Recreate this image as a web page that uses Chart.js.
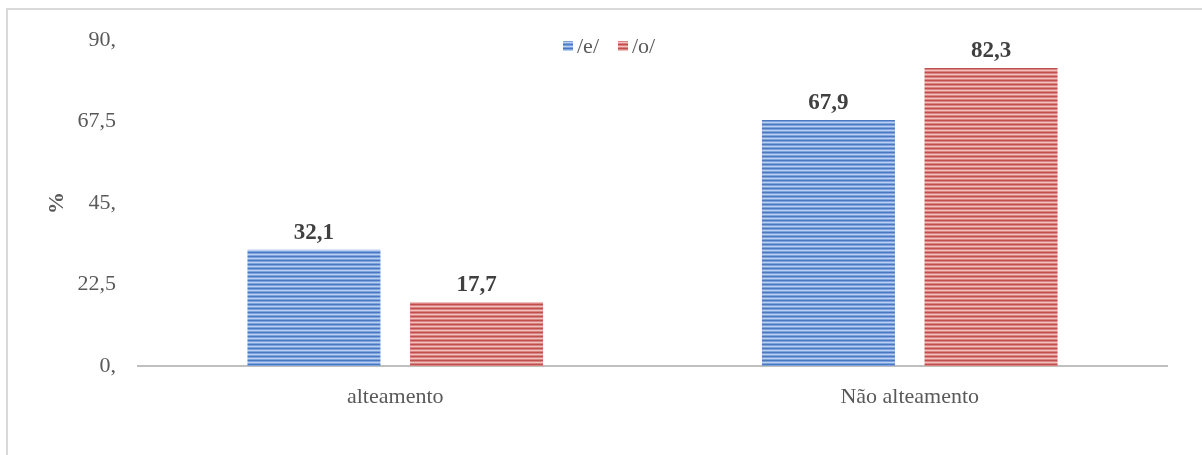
<!DOCTYPE html>
<html>
<head>
<meta charset="utf-8">
<script src="https://cdn.jsdelivr.net/npm/chart.js@4/dist/chart.umd.min.js"></script>
<style>
  html, body { margin: 0; padding: 0; background: #fff; }
  #wrap { width: 1202px; height: 455px; position: relative; }
</style>
</head>
<body>
<div id="wrap"><canvas id="chart" width="1202" height="455"></canvas></div>
<script>
// dados
const categorias = ["alteamento", "Não alteamento"];
const serieE = [32.1, 67.9];
const serieO = [17.7, 82.3];
const nomesSeries = ["/e/", "/o/"];
const yTickLabels = ["0,", "22,5", "45,", "67,5", "90,"];

const fonte = "'Liberation Serif', 'Times New Roman', serif";

// listras horizontais como no original
function makeStripes(dark, mid, light) {
  const c = document.createElement("canvas");
  c.width = 4;
  c.height = 4;
  const g = c.getContext("2d");
  g.fillStyle = dark;  g.fillRect(0, 0, 4, 1);
  g.fillStyle = mid;   g.fillRect(0, 1, 4, 1);
  g.fillStyle = light; g.fillRect(0, 2, 4, 1);
  g.fillStyle = mid;   g.fillRect(0, 3, 4, 1);
  return g.createPattern(c, "repeat");
}
const azul = makeStripes("#4a78c2", "#7da2dc", "#b9d0f2");
const vermelho = makeStripes("#c0504d", "#d98481", "#f1c0bf");

function fmt(v) {
  return v.toFixed(1).replace(".", ",");
}

// moldura, rótulos de dados e legenda
const extras = {
  id: "extras",
  beforeDraw(chart) {
    const ctx = chart.ctx;
    ctx.save();
    ctx.fillStyle = "#fff";
    ctx.fillRect(0, 0, chart.width, chart.height);
    ctx.strokeStyle = "#d9d9d9";
    ctx.lineWidth = 2;
    ctx.beginPath();
    ctx.moveTo(7, chart.height);
    ctx.lineTo(7, 9);
    ctx.lineTo(chart.width, 9);
    ctx.stroke();
    ctx.restore();
  },
  afterDatasetsDraw(chart) {
    const ctx = chart.ctx;
    ctx.save();
    ctx.font = "bold 23px " + fonte;
    ctx.fillStyle = "#404040";
    ctx.textAlign = "center";
    ctx.textBaseline = "alphabetic";
    chart.data.datasets.forEach((ds, i) => {
      chart.getDatasetMeta(i).data.forEach((bar, j) => {
        ctx.fillText(fmt(ds.data[j]), bar.x, bar.y - 11);
      });
    });

    // legenda
    ctx.font = "22px " + fonte;
    ctx.textAlign = "left";
    ctx.textBaseline = "middle";
    let x = 563;
    const y = 46;
    chart.data.datasets.forEach((ds) => {
      ctx.fillStyle = ds.backgroundColor;
      ctx.fillRect(x, y - 5, 10, 10);
      ctx.fillStyle = "#595959";
      ctx.fillText(ds.label, x + 14, y + 1);
      x += 14 + ctx.measureText(ds.label).width + 19;
    });
    ctx.restore();
  }
};

new Chart(document.getElementById("chart"), {
  type: "bar",
  data: {
    labels: categorias,
    datasets: [
      {
        label: nomesSeries[0],
        data: serieE,
        backgroundColor: azul,
        borderWidth: 0,
        categoryPercentage: 0.632,
        barPercentage: 0.818
      },
      {
        label: nomesSeries[1],
        data: serieO,
        backgroundColor: vermelho,
        borderWidth: 0,
        categoryPercentage: 0.632,
        barPercentage: 0.818
      }
    ]
  },
  options: {
    responsive: false,
    animation: false,
    layout: { padding: { left: 40, right: 35, top: 40, bottom: 29 } },
    plugins: {
      legend: { display: false },
      tooltip: { enabled: false }
    },
    scales: {
      x: {
        grid: { display: false },
        border: { display: true, color: "#bfbfbf", width: 2 },
        ticks: {
          color: "#595959",
          padding: 10,
          font: { family: fonte, size: 22 }
        },
        afterFit(scale) { scale.height = 60; }
      },
      y: {
        min: 0,
        max: 90,
        grid: { display: false },
        border: { display: false },
        ticks: {
          stepSize: 22.5,
          color: "#595959",
          padding: 14,
          font: { family: fonte, size: 22 },
          callback: (v, i) => yTickLabels[i]
        },
        title: {
          display: true,
          text: "%",
          color: "#595959",
          padding: 4,
          font: { family: fonte, size: 22, weight: "bold" }
        },
        afterFit(scale) { scale.width = 98; }
      }
    }
  },
  plugins: [extras]
});
</script>
</body>
</html>
